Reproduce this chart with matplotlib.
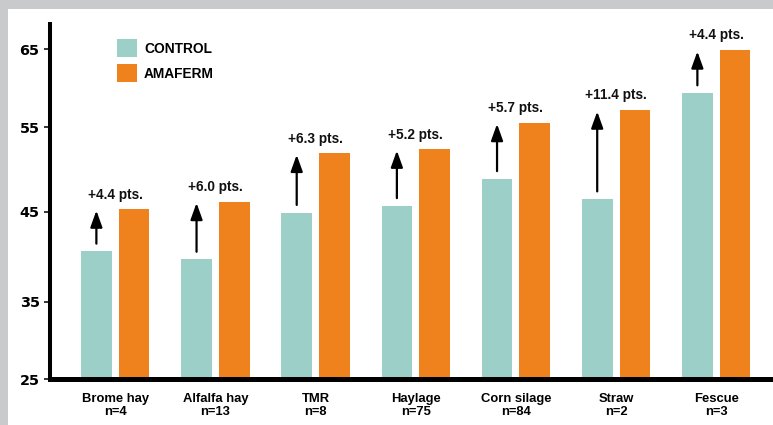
import numpy as np
import matplotlib
matplotlib.use("Agg")
import matplotlib.pyplot as plt
from matplotlib.patches import Rectangle, Patch
from matplotlib import font_manager as fm

# ---- data ----
categories = ["Brome hay", "Alfalfa hay", "TMR", "Haylage", "Corn silage", "Straw", "Fescue"]
n_counts = [4, 13, 8, 75, 84, 2, 3]
control = [40.6, 39.7, 44.9, 45.7, 48.9, 46.5, 59.4]
amaferm = [45.3, 46.2, 51.9, 52.4, 55.6, 57.2, 64.9]
gains = ["+4.4", "+6.0", "+6.3", "+5.2", "+5.7", "+11.4", "+4.4"]
yticks = [25, 35, 45, 55, 65]
series_names = ["CONTROL", "AMAFERM"]

# ---- style ----
C_CONTROL = "#9dcfc9"
C_AMAFERM = "#f0821e"
_names = {f.name for f in fm.fontManager.ttflist}
NARROW_OK = "Liberation Sans Narrow" in _names
if NARROW_OK:
    NARROW = ["Liberation Sans Narrow", "DejaVu Sans"]
    nscale = 1.0
else:
    NARROW = ["Liberation Sans", "DejaVu Sans"]
    nscale = 0.86
SANS = ["Liberation Sans", "DejaVu Sans"]

# the original axis is drawn with uneven tick spacing: piecewise-linear scale
knot_val = np.array([-200.0, 25, 35, 45, 55, 65, 300])
knot_pos = np.array([-225 * 7.76, 0, 77.6, 167.6, 252.0, 330.0, 330 + 235 * 7.8])

def fwd(v):
    return np.interp(v, knot_val, knot_pos)

def inv(p):
    return np.interp(p, knot_pos, knot_val)

W, H = 773, 425
fig = plt.figure(figsize=(W / 100, H / 100), dpi=100)
fig.patch.set_facecolor("#c9cacc")
fig.patches.append(Rectangle((8 / W, 0), 1, 1 - 9 / H, transform=fig.transFigure,
                             facecolor="white", edgecolor="none", zorder=-5))

ax = fig.add_axes([50.3 / W, 1 - 379.3 / H, 1 - 50.3 / W, (379.3 - 24) / H])
ax.set_facecolor("none")
ax.set_yscale("function", functions=(fwd, inv))

x = np.arange(len(categories))
bw = 0.306
off = 0.188
ax.bar(x - off, np.array(control) - 25, bw, bottom=25, color=C_CONTROL, zorder=2)
ax.bar(x + off, np.array(amaferm) - 25, bw, bottom=25, color=C_AMAFERM, zorder=2)

for i in range(len(categories)):
    ax.annotate("", xy=(x[i] - off, amaferm[i]), xytext=(x[i] - off, control[i]),
                arrowprops=dict(arrowstyle="-|>,head_length=1.0,head_width=0.36",
                                mutation_scale=10, lw=1.6, color="black",
                                shrinkA=5.5, shrinkB=1.0), zorder=3)
    ax.annotate(f"{gains[i]} pts.", xy=(x[i], amaferm[i]), xytext=(0, 5.5),
                textcoords="offset points", ha="center", va="bottom",
                fontsize=9.8, fontweight="bold", family=SANS, color="#111111")

ax.set_xlim(-0.648, 6.567)
ax.set_ylim(25, 68.24)
ax.set_yticks(yticks)
ax.yaxis.set_minor_locator(matplotlib.ticker.NullLocator())
ax.set_yticklabels([str(t) for t in yticks], fontsize=10.4, fontweight="bold",
                   family=["DejaVu Sans"])
ax.set_xticks(x)
ax.set_xticklabels([f"{c}\nn={n}" for c, n in zip(categories, n_counts)],
                   fontsize=10.9 * nscale, fontweight="bold", family=NARROW,
                   linespacing=1.12)
ax.tick_params(axis="x", length=0, pad=10.0)
ax.tick_params(axis="y", length=4.5, width=1.1, pad=3.2)

for s in ["top", "right"]:
    ax.spines[s].set_visible(False)
ax.spines["left"].set_linewidth(2.9)
ax.spines["bottom"].set_linewidth(3.6)
for s in ["left", "bottom"]:
    ax.spines[s].set_capstyle("projecting")
    ax.spines[s].set_zorder(4)

handles = [Patch(facecolor=C_CONTROL), Patch(facecolor=C_AMAFERM)]
fs_leg = 11.5 * nscale
leg = fig.legend(handles, series_names, loc="upper left",
                 bbox_to_anchor=(117.3 / W, 1 - 39.3 / H), bbox_transform=fig.transFigure,
                 frameon=False, borderpad=0, borderaxespad=0,
                 handlelength=1.21 * 11.5 / fs_leg, handleheight=1.375 * 11.5 / fs_leg,
                 handletextpad=0.46 * 11.5 / fs_leg, labelspacing=0.46 * 11.5 / fs_leg,
                 prop=dict(family=NARROW, weight="bold", size=fs_leg))

fig.savefig("out.png", dpi=100)
